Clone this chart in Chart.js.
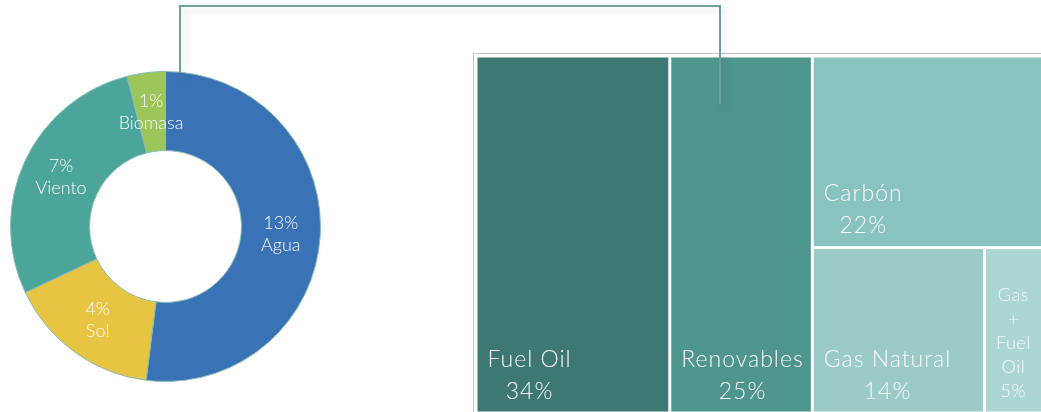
<!DOCTYPE html>
<html>
<head>
<meta charset="utf-8">
<script src="https://cdn.jsdelivr.net/npm/chart.js@4"></script>
<style>
  html, body { margin: 0; padding: 0; background: #fff; overflow: hidden; width: 1041px; height: 412px; }
  .box { position: absolute; }
  #donutBox { left: 10px; top: 71px; width: 311px; height: 311px; }
  #treeBox { left: 476px; top: 56px; width: 570px; height: 357px; }
  #frame { left: 473px; top: 53px; width: 620px; height: 400px; border-top: 1px solid #c6c6c6; border-left: 1px solid #c6c6c6; }
  .conn { position: absolute; border-color: #6e9f9b; border-style: solid; border-width: 0; filter: drop-shadow(4px 4px 3px rgba(0,0,0,0.13)); z-index: 5; }
  #conn1 { left: 179px; top: 5px; width: 540px; height: 66px; border-top-width: 2px; border-left-width: 2px; }
  #conn2 { left: 719px; top: 5px; width: 0; height: 97px; border-right-width: 2px; border-top-width: 2px; }
</style>
</head>
<body>
<div id="frame" class="box"></div>
<div id="donutBox" class="box"><canvas id="donut"></canvas></div>
<div id="treeBox" class="box"><canvas id="tree"></canvas></div>
<div id="conn1" class="conn"></div>
<div id="conn2" class="conn"></div>
<script>
// ---------- data ----------
const donutLabels = ["Agua", "Sol", "Viento", "Biomasa"];
const donutValues = [13, 4, 7, 1];
const donutColors = ["#3a72b6", "#e8c443", "#4ba59a", "#9dc65a"];

const treeLabels = ["Fuel Oil", "Renovables", "Carbón", "Gas Natural", "Gas + Fuel Oil"];
const treeValues = [34, 25, 22, 14, 5];
const treeColors = ["#3d7873", "#4e958d", "#88c3bf", "#9acbc7", "#acd6d2"];
// columns -> rows -> (optional) split of a row
const treeGroups = [[0], [1], [2, [3, 4]]];

const FONT = "Lato, 'Open Sans', sans-serif";

/* ---------- doughnut labels ---------- */
const donutLabelPlugin = {
    id: "donutLabels",
    afterDatasetsDraw(chart) {
        const ctx = chart.ctx;
        const meta = chart.getDatasetMeta(0);
        ctx.save();
        ctx.fillStyle = "#fafafa";
        ctx.textAlign = "center";
        ctx.textBaseline = "middle";
        ctx.font = "300 18px " + FONT;
        meta.data.forEach((arc, i) => {
            const p = arc.tooltipPosition();
            ctx.fillText(donutValues[i] + "%", p.x, p.y - 11);
            ctx.fillText(donutLabels[i], p.x, p.y + 11);
        });
        ctx.restore();
    }
};

new Chart(document.getElementById("donut"), {
    type: "doughnut",
    data: {
        labels: donutLabels,
        datasets: [{
            data: donutValues,
            backgroundColor: donutColors,
            borderColor: "#86bdb6",
            borderWidth: 1
        }]
    },
    options: {
        responsive: true,
        maintainAspectRatio: false,
        animation: false,
        cutout: "49%",
        layout: { padding: 0 },
        plugins: { legend: { display: false }, tooltip: { enabled: false } }
    },
    plugins: [donutLabelPlugin]
});

/* ---------- treemap layout (slice and dice) ---------- */
function layoutTree(values, groups) {
    const sum = arr => arr.reduce((a, i) => a + values[i], 0);
    const total = values.reduce((a, b) => a + b, 0);
    const rects = [];
    let x = 0;
    groups.forEach(col => {
        const colIdx = col.flat();
        const w = sum(colIdx) / total * 100;
        let y = 0;
        col.forEach(row => {
            const items = Array.isArray(row) ? row : [row];
            const rowSum = sum(items);
            const h = rowSum / sum(colIdx) * 100;
            let xx = x;
            items.forEach(i => {
                const ww = values[i] / rowSum * w;
                rects.push({ i, x0: xx, x1: xx + ww, y0: y, y1: y + h });
                xx += ww;
            });
            y += h;
        });
        x += w;
    });
    return rects;
}

const treeRects = layoutTree(treeValues, treeGroups);

const treePlugin = {
    id: "treeCells",
    afterDatasetsDraw(chart) {
        const { ctx, scales: { x, y } } = chart;
        const gap = 1.5;
        ctx.save();
        treeRects.forEach(r => {
            const left = x.getPixelForValue(r.x0) + gap;
            const right = x.getPixelForValue(r.x1) - gap;
            const top = y.getPixelForValue(r.y0) + gap;
            const bottom = y.getPixelForValue(r.y1) - gap;
            ctx.fillStyle = treeColors[r.i];
            ctx.fillRect(left, top, right - left, bottom - top);

            // label
            let lh = 32;
            ctx.letterSpacing = "1px";
            ctx.font = "300 23px " + FONT;
            let lines = [treeLabels[r.i]];
            if (ctx.measureText(treeLabels[r.i]).width > right - left - 8) {
                lh = 24;
                ctx.letterSpacing = "0.5px";
                ctx.font = "300 18px " + FONT;
                lines = treeLabels[r.i].split(" ");
            }
            lines.push(treeValues[r.i] + "%");
            const maxW = Math.max(...lines.map(l => ctx.measureText(l).width));
            const cx = left + 10 + maxW / 2;
            ctx.fillStyle = "#fafafa";
            ctx.textAlign = "center";
            ctx.textBaseline = "middle";
            lines.forEach((l, k) => {
                const ly = bottom - 20 - (lines.length - 1 - k) * lh;
                ctx.fillText(l, cx, ly);
            });
        });
        ctx.restore();
    }
};

new Chart(document.getElementById("tree"), {
    type: "scatter",
    data: { datasets: [{ data: [] }] },
    options: {
        responsive: true,
        maintainAspectRatio: false,
        animation: false,
        layout: { padding: 0 },
        scales: {
            x: { type: "linear", min: 0, max: 100, display: false },
            y: { type: "linear", min: 0, max: 100, reverse: true, display: false }
        },
        plugins: { legend: { display: false }, tooltip: { enabled: false } }
    },
    plugins: [treePlugin]
});
</script>
</body>
</html>
